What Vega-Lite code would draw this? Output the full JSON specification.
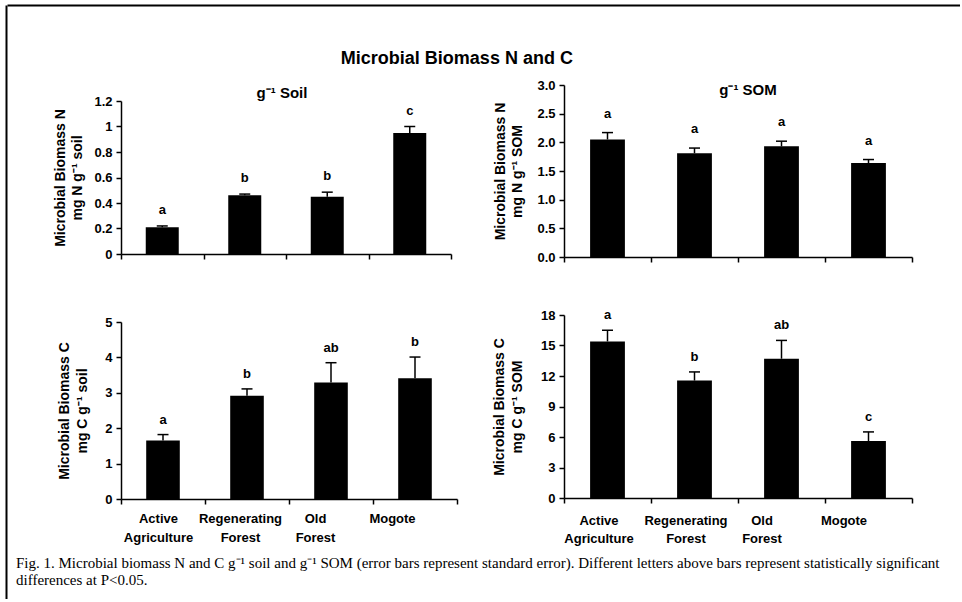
{
  "$schema": "https://vega.github.io/schema/vega-lite/v6.json",
  "padding": {"left": 6, "top": 5, "right": 0, "bottom": 0},
  "background": "white",
  "spacing": 0,
  "datasets": {
    "bio": [
      {"panel": "Nsoil", "site": "Active Agriculture", "mean": 0.21, "upper": 0.22, "letter": "a"},
      {"panel": "Nsoil", "site": "Regenerating Forest", "mean": 0.46, "upper": 0.47, "letter": "b"},
      {"panel": "Nsoil", "site": "Old Forest", "mean": 0.45, "upper": 0.485, "letter": "b"},
      {"panel": "Nsoil", "site": "Mogote", "mean": 0.95, "upper": 1.0, "letter": "c"},
      {"panel": "Nsom", "site": "Active Agriculture", "mean": 2.05, "upper": 2.17, "letter": "a"},
      {"panel": "Nsom", "site": "Regenerating Forest", "mean": 1.81, "upper": 1.9, "letter": "a"},
      {"panel": "Nsom", "site": "Old Forest", "mean": 1.93, "upper": 2.02, "letter": "a"},
      {"panel": "Nsom", "site": "Mogote", "mean": 1.64, "upper": 1.7, "letter": "a"},
      {"panel": "Csoil", "site": "Active Agriculture", "mean": 1.65, "upper": 1.82, "letter": "a"},
      {"panel": "Csoil", "site": "Regenerating Forest", "mean": 2.92, "upper": 3.11, "letter": "b"},
      {"panel": "Csoil", "site": "Old Forest", "mean": 3.29, "upper": 3.85, "letter": "ab"},
      {"panel": "Csoil", "site": "Mogote", "mean": 3.41, "upper": 4.01, "letter": "b"},
      {"panel": "Csom", "site": "Active Agriculture", "mean": 15.4, "upper": 16.5, "letter": "a"},
      {"panel": "Csom", "site": "Regenerating Forest", "mean": 11.55, "upper": 12.4, "letter": "b"},
      {"panel": "Csom", "site": "Old Forest", "mean": 13.7, "upper": 15.5, "letter": "ab"},
      {"panel": "Csom", "site": "Mogote", "mean": 5.6, "upper": 6.5, "letter": "c"}
    ]
  },
  "config": {
    "view": {"stroke": null},
    "font": "Liberation Sans",
    "title": {"font": "Liberation Sans", "fontWeight": "bold", "color": "black"},
    "axis": {
      "grid": false,
      "labelFont": "Liberation Sans",
      "labelFontWeight": "bold",
      "labelFontSize": 13,
      "labelColor": "black",
      "labelOverlap": false,
      "titleFont": "Liberation Sans",
      "titleFontWeight": "bold",
      "titleFontSize": 14,
      "titleColor": "black",
      "domainColor": "black",
      "tickColor": "black",
      "domainWidth": 1.5,
      "tickWidth": 1.5,
      "tickSize": 5
    }
  },
  "hconcat": [
    {
      "width": 1,
      "height": 594,
      "data": {"values": []},
      "mark": {"type": "point", "opacity": 0},
      "encoding": {
        "y": {"field": "v", "type": "quantitative", "scale": {"domain": [0, 1]},
              "axis": {"title": null, "labels": false, "ticks": false, "domainWidth": 2, "domainColor": "black"}}
      }
    },
    {
      "spacing": 43,
      "title": {
        "text": [
          "Fig. 1. Microbial biomass N and C g⁻¹ soil and g⁻¹ SOM (error bars represent standard error). Different letters above bars represent statistically significant",
          "differences at P<0.05."
        ],
        "orient": "bottom",
        "anchor": "start",
        "font": "Liberation Serif",
        "fontWeight": "normal",
        "fontSize": 15,
        "lineHeight": 17,
        "offset": 10.5,
        "dx": 9,
        "color": "black"
      },
      "vconcat": [
        {
          "width": 953,
          "height": 1,
          "data": {"values": []},
          "mark": {"type": "point", "opacity": 0},
          "encoding": {
            "x": {"field": "v", "type": "quantitative", "scale": {"domain": [0, 1]},
                  "axis": {"orient": "top", "title": null, "labels": false, "ticks": false, "domainWidth": 2, "domainColor": "black"}}
          }
        },
        {
          "spacing": 34,
          "title": {"text": "Microbial Biomass N and C", "fontSize": 18, "offset": 11.5, "dx": -3, "anchor": "middle"},
          "hconcat": [
            {
              "width": 12,
              "height": 10,
              "data": {"values": []},
              "mark": {"type": "point", "opacity": 0}
            },
            {
              "spacing": 55,
              "vconcat": [
                {
                  "spacing": 0,
                  "vconcat": [
                    {
                      "width": 10,
                      "height": 1,
                      "data": {"values": []},
                      "mark": {"type": "point", "opacity": 0}
                    },
                    {
                      "width": 330,
                      "height": 153,
                      "data": {"name": "bio"},
                      "transform": [{"filter": "datum.panel === 'Nsoil'"}],
                      "title": {"text": "g⁻¹ Soil", "fontSize": 15, "offset": -6, "dx": -4},
                      "encoding": {
                        "x": {"field": "site", "type": "nominal",
                              "sort": ["Active Agriculture", "Regenerating Forest", "Old Forest", "Mogote"],
                              "scale": {"paddingInner": 0, "paddingOuter": 0},
                              "axis": {"labels": false, "title": null, "tickBand": "extent"}}
                      },
                      "layer": [
                        {"mark": {"type": "bar", "color": "black", "width": {"band": 0.4}},
                         "encoding": {"y": {"field": "mean", "type": "quantitative", "scale": {"domain": [0, 1.2], "nice": false},
                           "axis": {"values": [0, 0.2, 0.4, 0.6, 0.8, 1, 1.2], "format": "~g", "labelPadding": 4,
                                    "title": ["Microbial Biomass N", "mg N g⁻¹ soil"], "titlePadding": 9, "titleLineHeight": 17}}}},
                        {"mark": {"type": "rule", "color": "black", "strokeWidth": 1.5},
                         "encoding": {"y": {"field": "mean", "type": "quantitative", "scale": {"domain": [0, 1.2], "nice": false},
                           "axis": {"values": [0, 0.2, 0.4, 0.6, 0.8, 1, 1.2], "format": "~g", "labelPadding": 4,
                                    "title": ["Microbial Biomass N", "mg N g⁻¹ soil"], "titlePadding": 9, "titleLineHeight": 17}}, "y2": {"field": "upper"}}},
                        {"mark": {"type": "tick", "color": "black", "opacity": 1, "thickness": 1.5, "size": 11},
                         "encoding": {"y": {"field": "upper", "type": "quantitative", "scale": {"domain": [0, 1.2], "nice": false},
                           "axis": {"values": [0, 0.2, 0.4, 0.6, 0.8, 1, 1.2], "format": "~g", "labelPadding": 4,
                                    "title": ["Microbial Biomass N", "mg N g⁻¹ soil"], "titlePadding": 9, "titleLineHeight": 17}}}},
                        {"mark": {"type": "text", "dy": -16, "fontWeight": "bold", "fontSize": 13, "color": "black", "font": "Liberation Sans"},
                         "encoding": {"y": {"field": "upper", "type": "quantitative", "scale": {"domain": [0, 1.2], "nice": false},
                           "axis": {"values": [0, 0.2, 0.4, 0.6, 0.8, 1, 1.2], "format": "~g", "labelPadding": 4,
                                    "title": ["Microbial Biomass N", "mg N g⁻¹ soil"], "titlePadding": 9, "titleLineHeight": 17}}, "text": {"field": "letter"}}}
                      ]
                    }
                  ]
                },
                {
                  "width": 336,
                  "height": 177,
                  "data": {"name": "bio"},
                  "transform": [{"filter": "datum.panel === 'Csoil'"}],
                  "encoding": {
                    "x": {"field": "site", "type": "nominal",
                          "sort": ["Active Agriculture", "Regenerating Forest", "Old Forest", "Mogote"],
                          "scale": {"paddingInner": 0, "paddingOuter": 0},
                          "axis": {"title": null, "tickBand": "extent", "labelAngle": 0,
                                   "labelExpr": "split(datum.label, ' ')", "labelPadding": 8.5, "labelLineHeight": 18.5,
                                   "labelOffset": {"condition": [
                                     {"test": "datum.value === 'Mogote'", "value": -23},
                                     {"test": "datum.value === 'Old Forest'", "value": -16},
                                     {"test": "datum.value === 'Regenerating Forest'", "value": -7}], "value": -5}}}
                  },
                  "layer": [
                    {"mark": {"type": "bar", "color": "black", "width": {"band": 0.4}},
                     "encoding": {"y": {"field": "mean", "type": "quantitative", "scale": {"domain": [0, 5], "nice": false},
                       "axis": {"values": [0, 1, 2, 3, 4, 5], "format": "d", "labelPadding": 4,
                                "title": ["Microbial Biomass C", "mg C g⁻¹ soil"], "titlePadding": 15, "titleLineHeight": 18}}}},
                    {"mark": {"type": "rule", "color": "black", "strokeWidth": 1.5},
                     "encoding": {"y": {"field": "mean", "type": "quantitative", "scale": {"domain": [0, 5], "nice": false},
                       "axis": {"values": [0, 1, 2, 3, 4, 5], "format": "d", "labelPadding": 4,
                                "title": ["Microbial Biomass C", "mg C g⁻¹ soil"], "titlePadding": 15, "titleLineHeight": 18}}, "y2": {"field": "upper"}}},
                    {"mark": {"type": "tick", "color": "black", "opacity": 1, "thickness": 1.5, "size": 11},
                     "encoding": {"y": {"field": "upper", "type": "quantitative", "scale": {"domain": [0, 5], "nice": false},
                       "axis": {"values": [0, 1, 2, 3, 4, 5], "format": "d", "labelPadding": 4,
                                "title": ["Microbial Biomass C", "mg C g⁻¹ soil"], "titlePadding": 15, "titleLineHeight": 18}}}},
                    {"mark": {"type": "text", "dy": -15, "fontWeight": "bold", "fontSize": 13, "color": "black", "font": "Liberation Sans"},
                     "encoding": {"y": {"field": "upper", "type": "quantitative", "scale": {"domain": [0, 5], "nice": false},
                       "axis": {"values": [0, 1, 2, 3, 4, 5], "format": "d", "labelPadding": 4,
                                "title": ["Microbial Biomass C", "mg C g⁻¹ soil"], "titlePadding": 15, "titleLineHeight": 18}}, "text": {"field": "letter"}}}
                  ]
                }
              ]
            },
            {
              "spacing": 45,
              "vconcat": [
                {
                  "width": 348,
                  "height": 172,
                  "data": {"name": "bio"},
                  "transform": [{"filter": "datum.panel === 'Nsom'"}],
                  "title": {"text": "g⁻¹ SOM", "fontSize": 15, "offset": -19, "dx": 10},
                  "encoding": {
                    "x": {"field": "site", "type": "nominal",
                          "sort": ["Active Agriculture", "Regenerating Forest", "Old Forest", "Mogote"],
                          "scale": {"paddingInner": 0, "paddingOuter": 0},
                          "axis": {"labels": false, "title": null, "tickBand": "extent"}}
                  },
                  "layer": [
                    {"mark": {"type": "bar", "color": "black", "width": {"band": 0.4}},
                     "encoding": {"y": {"field": "mean", "type": "quantitative", "scale": {"domain": [0, 3], "nice": false},
                       "axis": {"values": [0, 0.5, 1, 1.5, 2, 2.5, 3], "format": ".1f", "labelPadding": 4,
                                "title": ["Microbial Biomass N", "mg N g⁻¹ SOM"], "titlePadding": 12, "titleLineHeight": 17}}}},
                    {"mark": {"type": "rule", "color": "black", "strokeWidth": 1.5},
                     "encoding": {"y": {"field": "mean", "type": "quantitative", "scale": {"domain": [0, 3], "nice": false},
                       "axis": {"values": [0, 0.5, 1, 1.5, 2, 2.5, 3], "format": ".1f", "labelPadding": 4,
                                "title": ["Microbial Biomass N", "mg N g⁻¹ SOM"], "titlePadding": 12, "titleLineHeight": 17}}, "y2": {"field": "upper"}}},
                    {"mark": {"type": "tick", "color": "black", "opacity": 1, "thickness": 1.5, "size": 11},
                     "encoding": {"y": {"field": "upper", "type": "quantitative", "scale": {"domain": [0, 3], "nice": false},
                       "axis": {"values": [0, 0.5, 1, 1.5, 2, 2.5, 3], "format": ".1f", "labelPadding": 4,
                                "title": ["Microbial Biomass N", "mg N g⁻¹ SOM"], "titlePadding": 12, "titleLineHeight": 17}}}},
                    {"mark": {"type": "text", "dy": -19, "fontWeight": "bold", "fontSize": 13, "color": "black", "font": "Liberation Sans"},
                     "encoding": {"y": {"field": "upper", "type": "quantitative", "scale": {"domain": [0, 3], "nice": false},
                       "axis": {"values": [0, 0.5, 1, 1.5, 2, 2.5, 3], "format": ".1f", "labelPadding": 4,
                                "title": ["Microbial Biomass N", "mg N g⁻¹ SOM"], "titlePadding": 12, "titleLineHeight": 17}}, "text": {"field": "letter"}}}
                  ]
                },
                {
                  "width": 348,
                  "height": 183,
                  "data": {"name": "bio"},
                  "transform": [{"filter": "datum.panel === 'Csom'"}],
                  "encoding": {
                    "x": {"field": "site", "type": "nominal",
                          "sort": ["Active Agriculture", "Regenerating Forest", "Old Forest", "Mogote"],
                          "scale": {"paddingInner": 0, "paddingOuter": 0},
                          "axis": {"title": null, "tickBand": "extent", "labelAngle": 0,
                                   "labelExpr": "split(datum.label, ' ')", "labelPadding": 11, "labelLineHeight": 18,
                                   "labelOffset": {"condition": [
                                     {"test": "datum.value === 'Mogote'", "value": -25},
                                     {"test": "datum.value === 'Old Forest'", "value": -20}], "value": -9}}}
                  },
                  "layer": [
                    {"mark": {"type": "bar", "color": "black", "width": {"band": 0.4}},
                     "encoding": {"y": {"field": "mean", "type": "quantitative", "scale": {"domain": [0, 18], "nice": false},
                       "axis": {"values": [0, 3, 6, 9, 12, 15, 18], "format": "d", "labelPadding": 4,
                                "title": ["Microbial Biomass C", "mg C g⁻¹ SOM"], "titlePadding": 16, "titleLineHeight": 18}}}},
                    {"mark": {"type": "rule", "color": "black", "strokeWidth": 1.5},
                     "encoding": {"y": {"field": "mean", "type": "quantitative", "scale": {"domain": [0, 18], "nice": false},
                       "axis": {"values": [0, 3, 6, 9, 12, 15, 18], "format": "d", "labelPadding": 4,
                                "title": ["Microbial Biomass C", "mg C g⁻¹ SOM"], "titlePadding": 16, "titleLineHeight": 18}}, "y2": {"field": "upper"}}},
                    {"mark": {"type": "tick", "color": "black", "opacity": 1, "thickness": 1.5, "size": 11},
                     "encoding": {"y": {"field": "upper", "type": "quantitative", "scale": {"domain": [0, 18], "nice": false},
                       "axis": {"values": [0, 3, 6, 9, 12, 15, 18], "format": "d", "labelPadding": 4,
                                "title": ["Microbial Biomass C", "mg C g⁻¹ SOM"], "titlePadding": 16, "titleLineHeight": 18}}}},
                    {"mark": {"type": "text", "baseline": "bottom", "dy": -8, "fontWeight": "bold", "fontSize": 13, "color": "black", "font": "Liberation Sans"},
                     "encoding": {"y": {"field": "upper", "type": "quantitative", "scale": {"domain": [0, 18], "nice": false},
                       "axis": {"values": [0, 3, 6, 9, 12, 15, 18], "format": "d", "labelPadding": 4,
                                "title": ["Microbial Biomass C", "mg C g⁻¹ SOM"], "titlePadding": 16, "titleLineHeight": 18}}, "text": {"field": "letter"}}}
                  ]
                }
              ]
            }
          ]
        }
      ]
    }
  ]
}
